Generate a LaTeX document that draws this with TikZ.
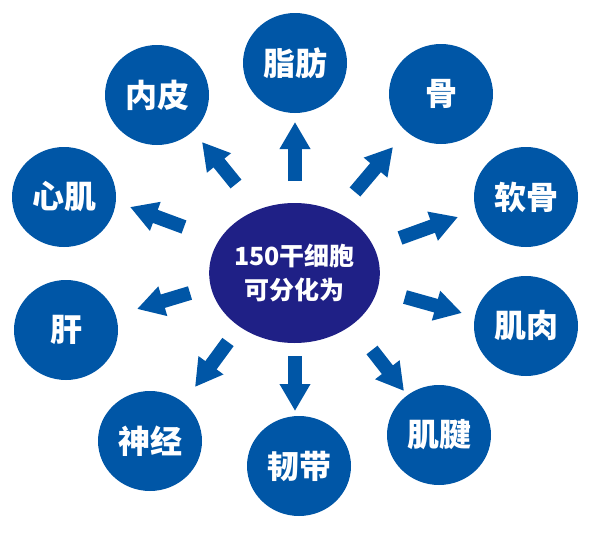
\documentclass[tikz,border=0pt]{standalone}
\usepackage{fontspec}
\newfontfamily\cjk{Noto Sans CJK SC}
\usetikzlibrary{shapes.geometric,arrows.meta}
\definecolor{outerblue}{RGB}{0,86,166}
\definecolor{navy}{RGB}{31,32,134}
\tikzset{
  leaf/.style={ellipse, fill=outerblue, minimum width=104pt, minimum height=100pt, inner sep=0pt,
    text=white, font=\cjk\bfseries\fontsize{32}{36}\selectfont},
  hub/.style={ellipse, fill=navy, minimum width=156pt, minimum height=140pt, inner sep=0pt,
    text=white, align=center, font=\cjk\bfseries\fontsize{25}{34}\selectfont},
  fat/.style={draw=outerblue, line width=14pt, -{Triangle[length=27pt,width=29pt]}}
}
\begin{document}
\begin{tikzpicture}[x=1pt,y=-1pt]
\useasboundingbox (0,0) rectangle (598,533);
\node[hub] (c) at (294.5,273) {150干细胞\\可分化为};
\node[leaf] (n1) at (295,63) {脂肪};
\node[leaf] (n2) at (441,94) {骨};
\node[leaf] (n3) at (526,197) {软骨};
\node[leaf] (n4) at (526,326) {肌肉};
\node[leaf] (n5) at (439,435) {肌腱};
\node[leaf] (n6) at (299,466) {韧带};
\node[leaf] (n7) at (150,441) {神经};
\node[leaf] (n8) at (66,330) {肝};
\node[leaf] (n9) at (64,197) {心肌};
\node[leaf] (n10) at (157,95) {内皮};
\coordinate (a1) at (295,181); \coordinate (b1) at (295,122);
\coordinate (a2) at (355,192); \coordinate (b2) at (393,147);
\coordinate (a3) at (400,238); \coordinate (b3) at (458,217);
\coordinate (a4) at (405,297); \coordinate (b4) at (462,313);
\coordinate (a5) at (372,350); \coordinate (b5) at (404,391);
\coordinate (a6) at (295,356); \coordinate (b6) at (295,411);
\coordinate (a7) at (228,342); \coordinate (b7) at (195,387);
\coordinate (a8) at (190,293); \coordinate (b8) at (137,309);
\coordinate (a9) at (184,227); \coordinate (b9) at (130,207);
\coordinate (a10) at (236,184); \coordinate (b10) at (202,142);
\foreach \i in {1,...,10} {\draw[fat] (a\i) -- (b\i);}
\end{tikzpicture}
\end{document}
